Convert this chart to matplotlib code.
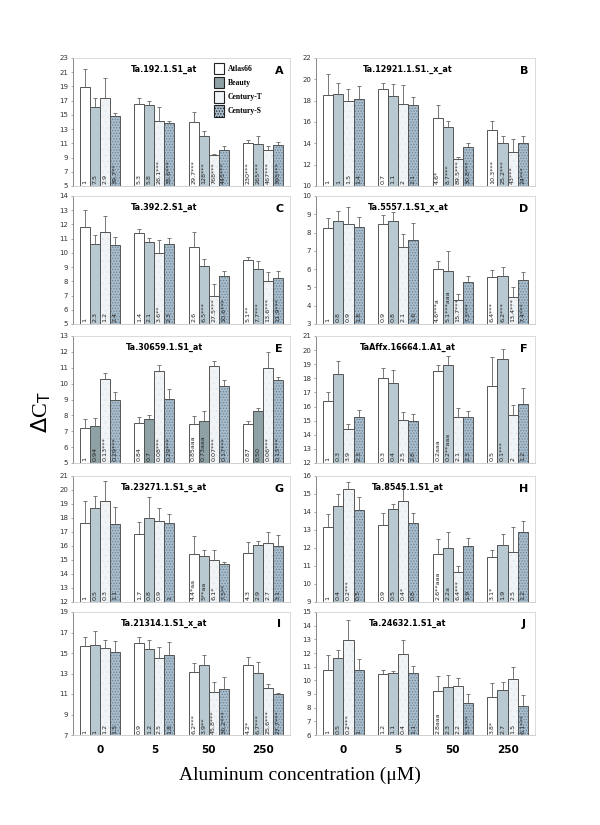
import matplotlib.pyplot as plt
import numpy as np
from matplotlib.patches import Patch

plt.rcParams['hatch.linewidth'] = 0.6

groups = ['0', '5', '50', '250']
cultivars = ['Atlas66', 'Beauty', 'Century-T', 'Century-S']

# values per panel: rows = Al concentration, columns = cultivar
titles = ['Ta.192.1.S1_at', 'Ta.12921.1.S1._x_at', 'Ta.392.2.S1_at', 'Ta.5557.1.S1_x_at',
          'Ta.30659.1.S1_at', 'TaAffx.16664.1.A1_at', 'Ta.23271.1.S1_s_at', 'Ta.8545.1.S1_at',
          'Ta.21314.1.S1_x_at', 'Ta.24632.1.S1_at']
letters = ['A', 'B', 'C', 'D', 'E', 'F', 'G', 'H', 'I', 'J']
ymins = [5, 10, 5, 3, 5, 12, 12, 9, 7, 6]
ymaxs = [23, 22, 14, 10, 13, 21, 21, 16, 19, 15]
ysteps = [2, 2, 1, 1, 1, 1, 1, 1, 2, 1]

mean_A = [[18.9, 16.1, 17.4, 14.9], [16.5, 16.4, 14.2, 13.8], [14.0, 12.0, 9.4, 10.1], [11.1, 10.9, 10.1, 10.7]]
top_A = [[21.4, 17.35, 20.2, 15.25], [17.35, 16.9, 16.05, 14.2], [15.35, 12.7, 9.55, 10.6], [11.4, 12.0, 10.65, 11.15]]
lab_A = [['1', '7.5', '2.9', '39.7**'], ['5.3', '5.8', '26.1***', '35.6***'],
         ['29.7***', '128***', '768***', '445***'], ['230***', '265***', '467***', '395***']]

mean_B = [[18.55, 18.6, 17.95, 18.2], [19.1, 18.4, 17.65, 17.55], [16.4, 15.5, 12.5, 13.65], [15.25, 14.05, 13.2, 14.05]]
top_B = [[20.5, 19.7, 19.1, 19.35], [19.7, 19.55, 19.45, 18.3], [17.55, 16.1, 12.7, 14.0], [16.1, 14.65, 14.4, 14.65]]
lab_B = [['1', '1', '1.5', '1.4'], ['0.7', '1.1', '2', '2.1'],
         ['4.6*', '8.7***', '89.5***', '30.8***'], ['10.3***', '25.2***', '43***', '24***']]

mean_C = [[11.8, 10.6, 11.5, 10.55], [11.4, 10.8, 10.0, 10.65], [10.4, 9.1, 7.0, 8.4], [9.5, 8.85, 8.0, 8.25]]
top_C = [[13.0, 11.25, 12.6, 11.1], [11.65, 11.05, 10.9, 11.05], [11.5, 9.6, 7.8, 8.75], [9.7, 9.45, 8.65, 8.75]]
lab_C = [['1', '2.3', '1.2', '2.4'], ['1.4', '2.1', '3.6**', '2.3'],
         ['2.6', '6.5***', '27.5***', '10.6***'], ['5.1**', '7.7***', '13.6***', '11.9***']]

mean_D = [[8.25, 8.65, 8.45, 8.3], [8.45, 8.65, 7.2, 7.6], [6.0, 5.9, 4.3, 5.27], [5.57, 5.65, 4.5, 5.4]]
top_D = [[8.8, 9.18, 9.38, 8.87], [8.95, 9.1, 7.93, 8.5], [6.44, 6.98, 4.62, 5.65], [5.95, 6.1, 5.0, 5.83]]
lab_D = [['1', '0.8', '0.9', '1.8'], ['0.9', '0.8', '2.1', '1.6'],
         ['4.6***a', '5.1***aaa', '15.7***', '7.3***'], ['6.4***', '6.2***', '13.4***', '7.4***']]

mean_E = [[7.23, 7.3, 10.26, 9.0], [7.5, 7.76, 10.8, 9.05], [7.46, 7.67, 11.14, 9.84], [7.44, 8.28, 11.0, 10.2]]
top_E = [[7.76, 7.82, 10.68, 9.49], [7.88, 8.05, 11.16, 9.63], [7.96, 8.28, 11.43, 10.22], [7.67, 8.49, 12.0, 10.43]]
lab_E = [['1', '0.94', '0.13***', '0.29***'], ['0.84', '0.7', '0.08***', '0.29***'],
         ['0.85aaa', '0.73aaa', '0.07***', '0.17***'], ['0.87', '0.50', '0.06***', '0.13***']]

mean_F = [[16.4, 18.3, 14.42, 15.25], [18.03, 17.7, 15.06, 14.95], [18.53, 18.98, 15.28, 15.28], [17.49, 19.4, 15.37, 16.2]]
top_F = [[17.06, 19.24, 14.78, 15.75], [18.7, 18.6, 15.61, 15.49], [18.96, 19.55, 15.87, 15.66], [19.48, 20.07, 16.09, 17.34]]
lab_F = [['1', '0.3', '3.9', '2.3'], ['0.3', '0.4', '2.5', '2.8'],
         ['0.2aaa', '0.2**aaa', '2.1', '2.3'], ['0.5', '0.1***', '2', '1.2']]

mean_G = [[17.66, 18.75, 19.2, 17.54], [16.87, 17.97, 17.82, 17.63], [15.46, 15.32, 15.03, 14.72], [15.53, 16.1, 16.18, 16.03]]
top_G = [[19.23, 19.6, 20.64, 18.8], [17.75, 19.47, 18.68, 18.32], [16.68, 15.75, 15.68, 14.89], [16.27, 16.37, 17.01, 16.82]]
lab_G = [['1', '0.5', '0.3', '1.1'], ['1.7', '0.8', '0.9', '1'],
         ['4.4*aa', '5**aa', '6.1*', '7.5**'], ['4.3', '2.9', '2.7', '3.1']]

mean_H = [[13.14, 14.31, 15.27, 14.09], [13.3, 14.15, 14.59, 13.37], [11.67, 11.98, 10.69, 12.13], [11.5, 12.16, 11.79, 12.9]]
top_H = [[13.87, 15.0, 15.67, 14.84], [13.93, 14.45, 15.45, 13.93], [12.49, 12.9, 10.99, 12.55], [11.89, 12.77, 13.17, 13.5]]
lab_H = [['1', '0.4', '0.2***', '0.5'], ['0.9', '0.5', '0.4*', '0.8'],
         ['2.6**aaa', '2.2a', '6.4***', '1.9'], ['3.1*', '1.9', '2.5', '1.2']]

mean_I = [[15.66, 15.75, 15.46, 15.1], [15.98, 15.43, 14.5, 14.84], [13.17, 13.85, 11.19, 11.51], [13.79, 13.07, 11.61, 10.96]]
top_I = [[16.6, 17.13, 16.28, 16.15], [16.54, 16.28, 15.56, 16.1], [13.98, 14.8, 12.13, 12.65], [14.63, 14.14, 12.0, 11.12]]
lab_I = [['1', '1', '1.2', '1.5'], ['0.9', '1.2', '2.5', '1.8'],
         ['6.2***', '3.9**', '45.8***', '36.2***'], ['4.2*', '6.7***', '25.6***', '27.7***']]

mean_J = [[10.73, 11.66, 12.95, 10.78], [10.49, 10.54, 11.92, 10.54], [9.22, 9.51, 9.61, 8.32], [8.8, 9.29, 10.12, 8.1]]
top_J = [[11.88, 12.2, 14.39, 11.58], [10.73, 10.68, 12.97, 11.07], [10.29, 10.37, 10.2, 9.02], [9.78, 9.9, 11.0, 8.95]]
lab_J = [['1', '0.5', '0.2***', '1'], ['1.2', '1.1', '0.4', '1.1'],
         ['2.8aaa', '2.3', '2.2', '5.3***'], ['3.8*', '2.7', '1.5', '6.1***']]

means = [mean_A, mean_B, mean_C, mean_D, mean_E, mean_F, mean_G, mean_H, mean_I, mean_J]
tops = [top_A, top_B, top_C, top_D, top_E, top_F, top_G, top_H, top_I, top_J]
labels = [lab_A, lab_B, lab_C, lab_D, lab_E, lab_F, lab_G, lab_H, lab_I, lab_J]

faces = ['#ffffff', '#b9c9d1', '#f1f4f6', '#a9bccb']
beauty_dark = '#8ea2a6'
edge = '#555555'

fig = plt.figure(figsize=(6, 8.25), dpi=100)

# panel frames in pixels (top, bottom) and (left, right)
rows_px = [(58, 186), (196, 324), (336, 463), (476, 602), (612, 735)]
cols_px = [(73, 290), (316, 535)]

w = 0.185
xs = np.arange(4)

for k in range(10):
    r, c = k // 2, k % 2
    t, b = rows_px[r]
    l, rr = cols_px[c]
    ax = fig.add_axes([l / 600, 1 - b / 825, (rr - l) / 600, (b - t) / 825])
    m = np.array(means[k])
    tp = np.array(tops[k])
    y0, y1 = ymins[k], ymaxs[k]
    for j in range(4):
        xj = xs + (j - 1.5) * w
        face = faces[j]
        if j == 1 and k == 4:
            face = beauty_dark
        if j == 3:
            ax.bar(xj, m[:, j], w, color=face, edgecolor='#6a8597', hatch='......', lw=0, zorder=2)
        elif j == 2:
            ax.bar(xj, m[:, j], w, color=face, edgecolor='#e3e9ec', hatch='...', lw=0, zorder=2)
        else:
            ax.bar(xj, m[:, j], w, color=face, lw=0, zorder=2)
        ax.bar(xj, m[:, j], w, fill=False, edgecolor=edge, lw=0.7, zorder=3)
        ax.errorbar(xj, m[:, j], yerr=[np.zeros(4), tp[:, j] - m[:, j]], fmt='none',
                    ecolor='#777777', elinewidth=0.7, capsize=1.5, capthick=0.7, zorder=1)
        for i in range(4):
            ax.text(xj[i], y0 + 0.012 * (y1 - y0), labels[k][i][j], rotation=90,
                    ha='center', va='bottom', fontsize=4.6, color='#222222', zorder=4)
    ax.set_xlim(-0.5, 3.5)
    ax.set_ylim(y0, y1)
    ax.set_yticks(np.arange(y0, y1 + 0.01, ysteps[k]))
    ax.tick_params(axis='y', labelsize=5, length=1.5, width=0.5, color='#888888',
                   labelcolor='#333333', pad=2)
    ax.tick_params(axis='x', length=0)
    if r == 4:
        ax.set_xticks(xs)
        ax.set_xticklabels(groups, fontsize=7.5, fontweight='bold')
        ax.tick_params(axis='x', pad=7)
    else:
        ax.set_xticks([])
    for s in ['top', 'right']:
        ax.spines[s].set_color('#d5d5d5')
        ax.spines[s].set_linewidth(0.6)
    ax.spines['bottom'].set_color('#c8c8c8')
    ax.spines['bottom'].set_linewidth(0.6)
    ax.spines['left'].set_color('#888888')
    ax.spines['left'].set_linewidth(0.7)
    ax.text(0.42, 0.91, titles[k], transform=ax.transAxes, ha='center', va='center',
            fontsize=5.8, fontweight='bold')
    ax.text(0.95, 0.9, letters[k], transform=ax.transAxes, ha='center', va='center',
            fontsize=8, fontweight='bold')
    if k == 0:
        handles = [Patch(facecolor=faces[0], edgecolor='#222222', lw=0.8),
                   Patch(facecolor=beauty_dark, edgecolor='#222222', lw=0.8),
                   Patch(facecolor=faces[2], edgecolor='#222222', lw=0.8),
                   Patch(facecolor=faces[3], edgecolor='#222222', lw=0.8, hatch='......')]
        ax.legend(handles, cultivars, loc='upper left', bbox_to_anchor=(0.63, 1.0),
                  frameon=False, prop={'family': 'Liberation Serif', 'size': 5.5, 'weight': 'bold'},
                  handlelength=1.3, handleheight=2.0, labelspacing=0.3, handletextpad=0.5,
                  borderaxespad=0.2)

fig.text(0.068, 0.5, r'$\Delta$C$_\mathrm{T}$', rotation=90, ha='center', va='center',
         fontsize=16, family='Liberation Serif')
fig.text(0.5, 0.06, 'Aluminum concentration (\u03bcM)', ha='center', va='center',
         fontsize=14, family='Liberation Serif')

fig.savefig('out.png', dpi=100)
